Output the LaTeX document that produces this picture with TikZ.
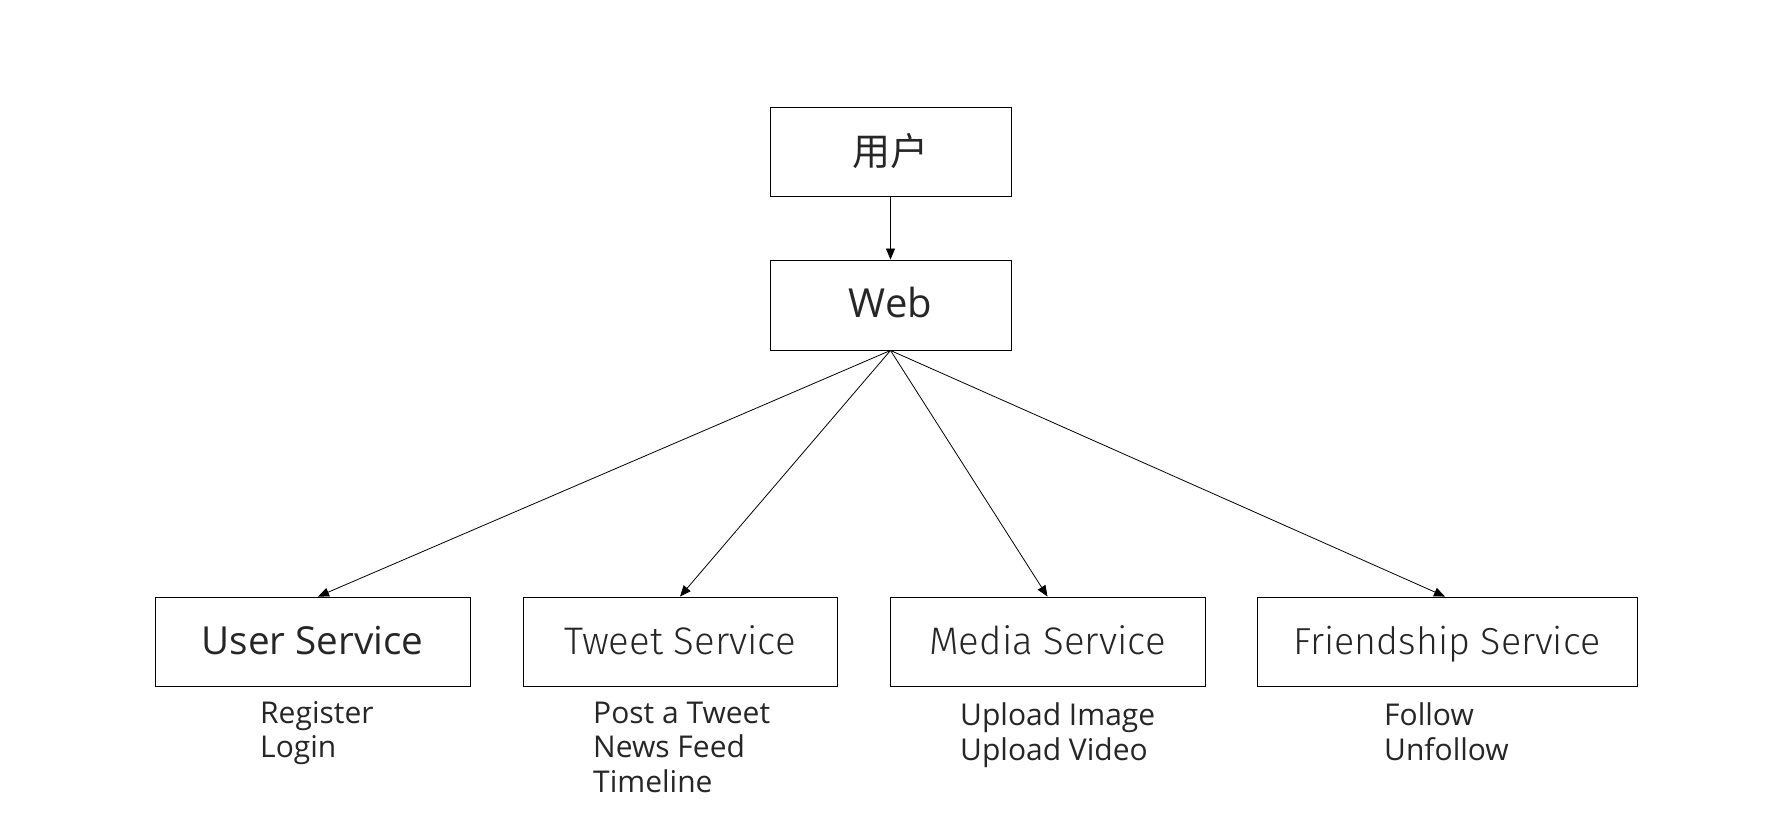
\documentclass[tikz,border=0pt]{standalone}
\usepackage{fontspec}
\setmainfont{Open Sans}
\newfontfamily\cjk{Noto Sans CJK SC}
\newfontfamily\lightfont{Fira Sans Light}
\usetikzlibrary{arrows.meta,calc}
\definecolor{txt}{HTML}{262626}
\tikzset{
  box/.style={draw=black,line width=0.9pt,minimum height=89pt,inner sep=0pt,text=txt},
  svc/.style={box,text height=35pt,text depth=10pt},
  conn/.style={line width=0.8pt,-{Triangle[length=11pt,width=9pt]}},
  lbl/.style={anchor=base west,inner sep=0pt,text=txt,font=\fontsize{30}{34}\selectfont}
}
\begin{document}
\begin{tikzpicture}[x=1pt,y=-1pt]
\useasboundingbox (0,0) rectangle (1780,822);
\node[box,minimum width=241pt,font=\cjk\fontsize{38}{40}\selectfont] (user) at (890.5,151.5) {用户};
\node[svc,minimum width=241pt,minimum height=90pt,font=\fontsize{40}{44}\selectfont] (web) at (890.5,305) {Web};
\node[svc,minimum width=315pt,font=\fontsize{38.6}{44}\selectfont] (us) at (312.5,641.5) {User Service};
\node[svc,minimum width=314pt,font=\lightfont\fontsize{38.4}{44}\selectfont] (ts) at (680,641.5) {Tweet Service};
\node[svc,minimum width=315pt,font=\lightfont\fontsize{38.4}{44}\selectfont] (ms) at (1047.5,641.5) {Media Service};
\node[svc,minimum width=380pt,font=\lightfont\fontsize{37.6}{44}\selectfont] (fs) at (1447,641.5) {Friendship Service};
\draw[conn] (user) -- (web);
\draw[conn] (web.south) -- ($(us.north)+(5.5,0)$);
\draw[conn] (web.south) -- (ts.north);
\draw[conn] (web.south) -- (ms.north);
\draw[conn] (web.south) -- ($(fs.north)+(-2,0)$);
\node[lbl] (us1) at (260,723) {Register};
\node[lbl] (us2) at (260,757) {Login};
\node[lbl] (ts1) at (593,723) {Post a Tweet};
\node[lbl] (ts2) at (593,757) {News Feed};
\node[lbl] (ts3) at (593,792) {Timeline};
\node[lbl] (ms1) at (960,725) {Upload Image};
\node[lbl] (ms2) at (960,760) {Upload Video};
\node[lbl] (fs1) at (1384,725) {Follow};
\node[lbl] (fs2) at (1384,760) {Unfollow};
\end{tikzpicture}
\end{document}
